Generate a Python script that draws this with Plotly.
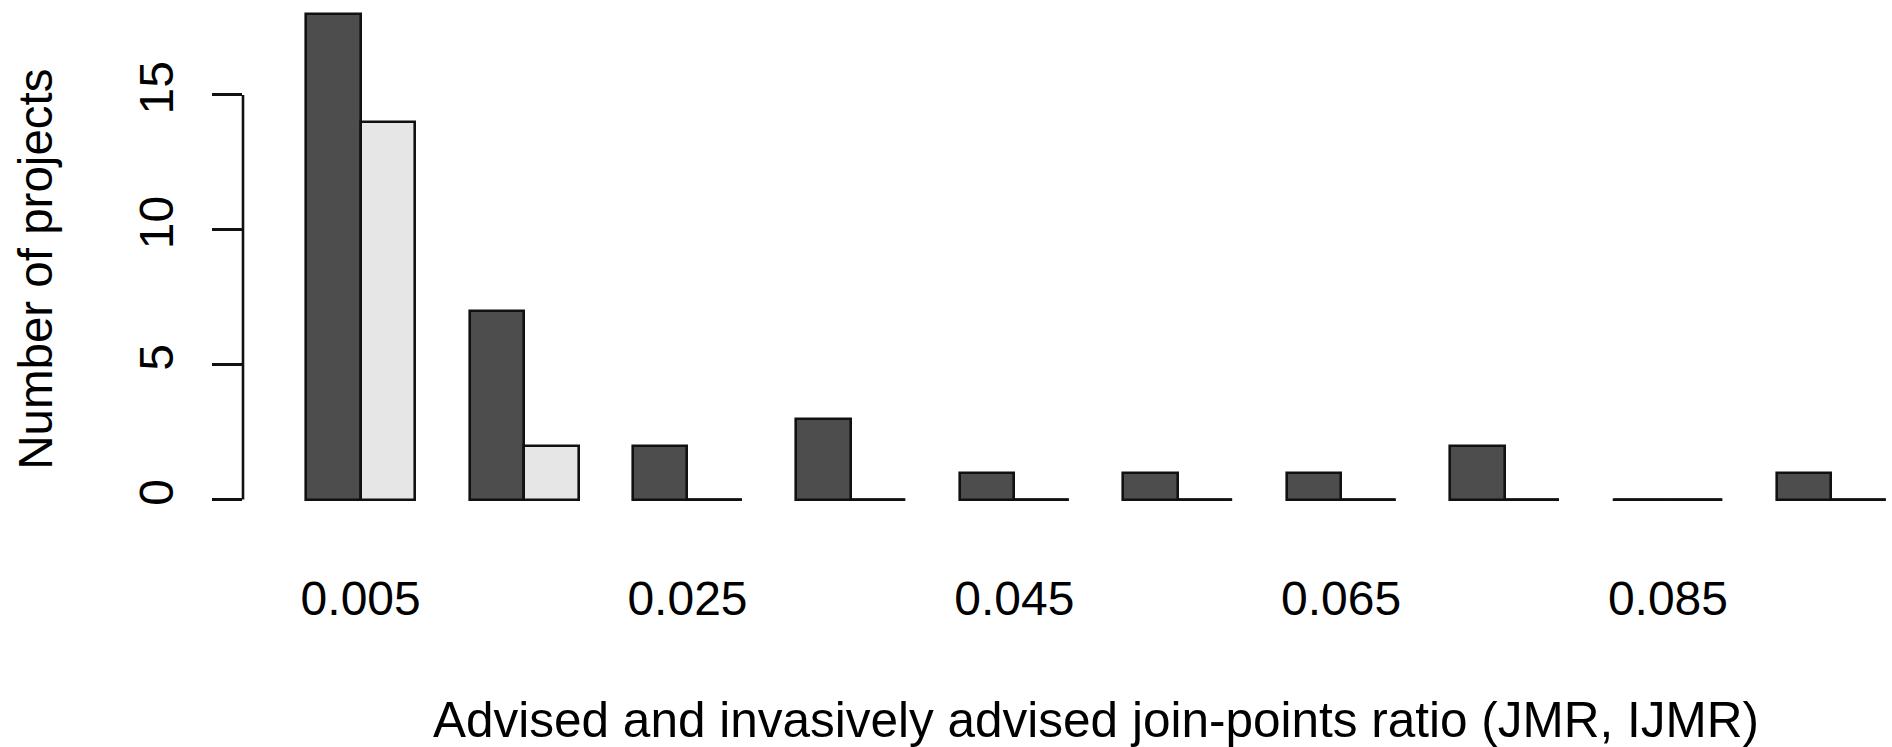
import plotly.graph_objects as go

# Histogram bins of the join-points ratio and project counts per bin
ratio_bins = ["0.005", "0.015", "0.025", "0.035", "0.045",
              "0.055", "0.065", "0.075", "0.085", "0.095"]
jmr_counts = [18, 7, 2, 3, 1, 1, 1, 2, 0, 1]    # advised (JMR)
ijmr_counts = [14, 2, 0, 0, 0, 0, 0, 0, 0, 0]   # invasively advised (IJMR)
y_ticks = [0, 5, 10, 15]

FONT = "Liberation Sans, Arial, Helvetica, sans-serif"
DARK = "#4D4D4D"
LIGHT = "#E6E6E6"
EDGE = "#111111"
EDGE_W = 2.6

# Side-by-side layout: each group holds two unit-wide bars after a one-unit gap
n = len(ratio_bins)
group_left = [3 * i + 1 for i in range(n)]
jmr_x = [g + 0.5 for g in group_left]
ijmr_x = [g + 1.5 for g in group_left]
group_mid = [g + 1 for g in group_left]

# Only every other bin name fits under the axis
label_idx = list(range(0, n, 2))
tick_x = [group_mid[i] for i in label_idx]
tick_text = [ratio_bins[i] for i in label_idx]

x_lo = group_left[0] - 0.04 * (ijmr_x[-1] + 0.5 - group_left[0])
y_lo = -0.04 * max(jmr_counts + ijmr_counts)

fig = go.Figure()
for xs, vals, colour in ((jmr_x, jmr_counts, DARK), (ijmr_x, ijmr_counts, LIGHT)):
    fig.add_trace(go.Bar(
        x=xs, y=vals, width=1.0,
        marker=dict(color=colour, line=dict(color=EDGE, width=EDGE_W)),
        showlegend=False, hoverinfo="skip",
    ))
    # empty bins still show their flat outline on the baseline
    seg_x, seg_y = [], []
    for cx, v in zip(xs, vals):
        if v == 0:
            seg_x += [cx - 0.5, cx + 0.5, None]
            seg_y += [v, v, None]
    if seg_x:
        fig.add_trace(go.Scatter(
            x=seg_x, y=seg_y, mode="lines",
            line=dict(color=EDGE, width=EDGE_W),
            showlegend=False, hoverinfo="skip", cliponaxis=False,
        ))

W, H = 1892, 747
left = 243.0
px_per_x = 54.47
px_per_y = 27.0
zero_px = 500.0
plot_h = zero_px - y_lo * px_per_y
bottom = H - plot_h

fig.update_layout(
    width=W, height=H,
    margin=dict(l=left, r=0, t=0, b=bottom, pad=0),
    paper_bgcolor="white", plot_bgcolor="white",
    barmode="overlay", bargap=0,
    font=dict(family=FONT, size=48, color="black"),
    xaxis=dict(
        range=[x_lo, x_lo + (W - left) / px_per_x],
        showgrid=False, zeroline=False, showline=False,
        ticks="", tickvals=tick_x, ticktext=tick_text,
        tickfont=dict(size=48), ticklabelstandoff=47,
    ),
    yaxis=dict(
        range=[y_lo, y_lo + plot_h / px_per_y],
        showgrid=False, zeroline=False, showline=False,
        ticks="outside", ticklen=30, tickwidth=EDGE_W, tickcolor=EDGE,
        tickvals=y_ticks, ticktext=[str(v) for v in y_ticks],
        tickangle=-90, tickfont=dict(size=48), ticklabelstandoff=20,
    ),
    shapes=[dict(
        type="line", xref="paper", yref="y",
        x0=0, x1=0, y0=y_ticks[0], y1=y_ticks[-1],
        line=dict(color=EDGE, width=EDGE_W), layer="above",
    )],
    annotations=[
        dict(text="Advised and invasively advised join-points ratio (JMR, IJMR)",
             xref="paper", yref="paper",
             x=(1096 - left) / (W - left), y=(plot_h - 720) / plot_h,
             xanchor="center", yanchor="middle", showarrow=False,
             font=dict(size=49.5)),
        dict(text="Number of projects",
             xref="paper", yref="paper",
             x=(36 - left) / (W - left), y=(plot_h - 270) / plot_h,
             xanchor="center", yanchor="middle", showarrow=False,
             textangle=-90, font=dict(size=47.5)),
    ],
)

fig.write_html("out.html")
